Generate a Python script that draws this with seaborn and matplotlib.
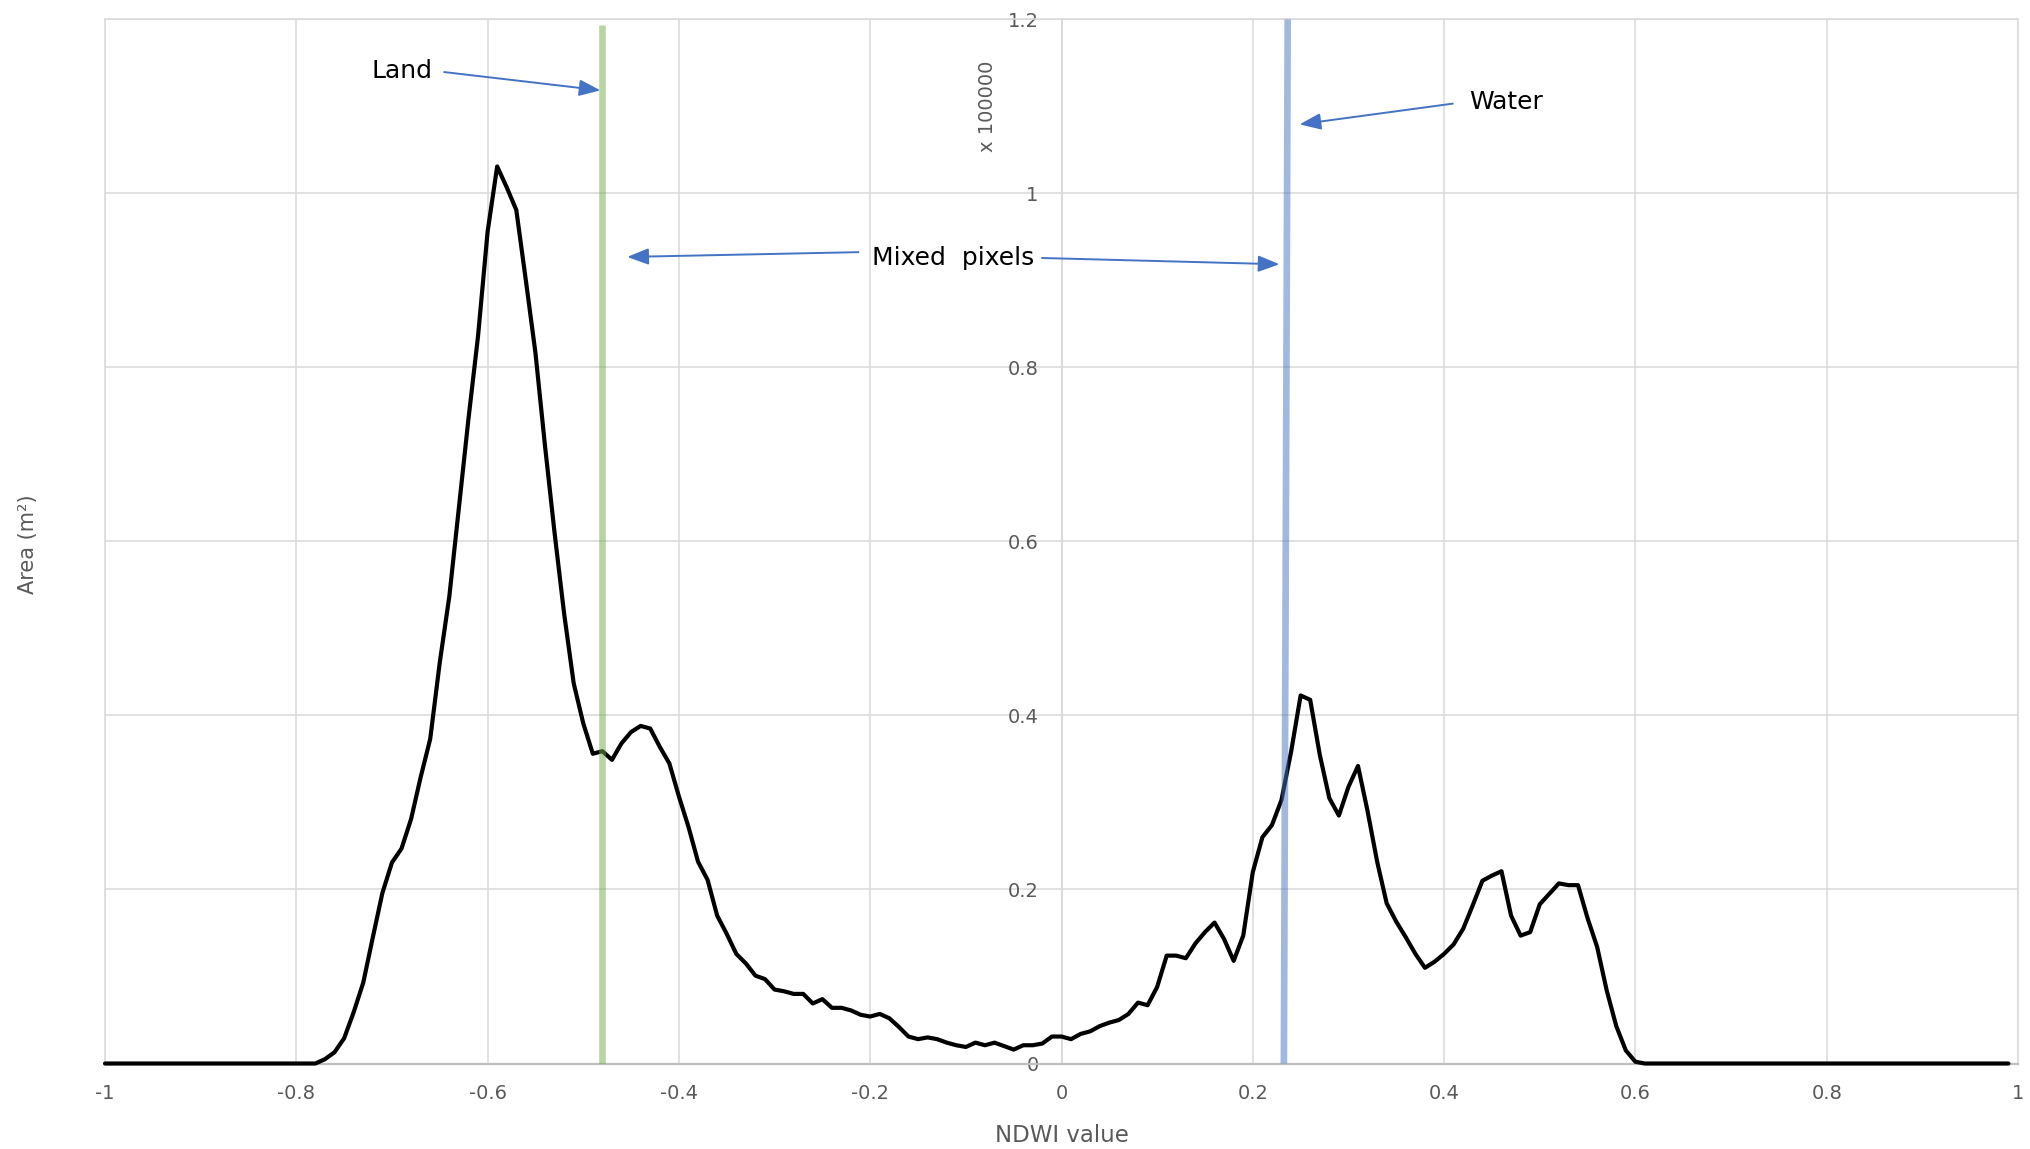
import numpy as np
import pandas as pd
import matplotlib
matplotlib.use("Agg")
import matplotlib.pyplot as plt
import seaborn as sns

# NDWI histogram bins (bin step 0.01) and area per bin, in units of 100000 m²
ndwi = np.round(np.arange(-100, 100) / 100, 2)
area = [
    # -1.00 .. -0.78
    0, 0, 0, 0, 0, 0, 0, 0, 0, 0, 0, 0, 0, 0, 0, 0, 0, 0, 0, 0, 0, 0, 0,
    # -0.77 .. -0.59
    0.005, 0.013, 0.029, 0.059, 0.093, 0.145, 0.196, 0.231, 0.247, 0.281,
    0.329, 0.373, 0.461, 0.537, 0.639, 0.741, 0.836, 0.956, 1.031,
    # -0.58 .. -0.39
    1.007, 0.981, 0.900, 0.817, 0.710, 0.610, 0.517, 0.437, 0.391, 0.356,
    0.359, 0.349, 0.368, 0.381, 0.388, 0.385, 0.364, 0.345, 0.307, 0.272,
    # -0.38 .. -0.19
    0.232, 0.211, 0.170, 0.149, 0.126, 0.115, 0.101, 0.097, 0.085, 0.083,
    0.080, 0.080, 0.069, 0.074, 0.064, 0.064, 0.061, 0.056, 0.054, 0.057,
    # -0.18 .. 0.01
    0.052, 0.042, 0.031, 0.028, 0.030, 0.028, 0.024, 0.021, 0.019, 0.024,
    0.021, 0.024, 0.020, 0.016, 0.021, 0.021, 0.023, 0.031, 0.031, 0.028,
    # 0.02 .. 0.21
    0.034, 0.037, 0.043, 0.047, 0.050, 0.057, 0.070, 0.067, 0.088, 0.124,
    0.124, 0.121, 0.138, 0.151, 0.162, 0.143, 0.118, 0.147, 0.220, 0.260,
    # 0.22 .. 0.41
    0.274, 0.303, 0.358, 0.423, 0.418, 0.355, 0.305, 0.285, 0.318, 0.342,
    0.290, 0.232, 0.184, 0.163, 0.145, 0.126, 0.110, 0.117, 0.126, 0.137,
    # 0.42 .. 0.60
    0.155, 0.182, 0.210, 0.216, 0.221, 0.170, 0.147, 0.151, 0.183, 0.195,
    0.207, 0.205, 0.205, 0.167, 0.134, 0.084, 0.043, 0.015, 0.002,
    # 0.61 .. 0.99
    0, 0, 0, 0, 0, 0, 0, 0, 0, 0, 0, 0, 0, 0, 0, 0, 0, 0, 0, 0,
    0, 0, 0, 0, 0, 0, 0, 0, 0, 0, 0, 0, 0, 0, 0, 0, 0, 0, 0,
]

x_ticks = [-1, -0.8, -0.6, -0.4, -0.2, 0, 0.2, 0.4, 0.6, 0.8, 1]
x_tick_labels = ["-1", "-0.8", "-0.6", "-0.4", "-0.2", "0", "0.2", "0.4", "0.6", "0.8", "1"]
y_ticks = [0, 0.2, 0.4, 0.6, 0.8, 1.0, 1.2]
y_tick_labels = ["0", "0.2", "0.4", "0.6", "0.8", "1", "1.2"]

# threshold lines (NDWI at bottom / top, area at bottom / top)
land_x = [-0.48, -0.48]
land_y = [0, 1.194]
water_x = [0.2325, 0.2365]
water_y = [0, 1.2]

GRID = "#d9d9d9"
TEXT_GREY = "#595959"
ARROW = "#4472C4"

sns.set_theme(style="white")
plt.rcParams["font.family"] = ["DejaVu Sans"]

fig = plt.figure(figsize=(20.31, 11.49), dpi=100)
ax = fig.add_axes([0.0517, 0.0744, 0.9419, 0.9087])

df = pd.DataFrame({"ndwi": ndwi, "area": area})
sns.lineplot(data=df, x="ndwi", y="area", color="black", lw=3.0, ax=ax,
             zorder=3, clip_on=False)

ax.plot(land_x, land_y, color="#70AD47", alpha=0.5, lw=4.8, zorder=4,
        solid_capstyle="butt")
ax.plot(water_x, water_y, color="#4472C4", alpha=0.5, lw=4.8, zorder=4,
        solid_capstyle="butt")

ax.set_xlim(-1, 1)
ax.set_ylim(0, 1.2)
ax.set_xticks(x_ticks)
ax.set_xticklabels(x_tick_labels)
ax.set_yticks(y_ticks)
ax.set_yticklabels(y_tick_labels)

ax.grid(True, color=GRID, lw=1.1)
ax.set_axisbelow(True)
for side in ["top", "right"]:
    ax.spines[side].set_color(GRID)
    ax.spines[side].set_linewidth(1.1)
ax.spines["left"].set_position(("data", 0))
ax.spines["left"].set_color(GRID)
ax.spines["left"].set_linewidth(1.1)
ax.spines["bottom"].set_color("#bfbfbf")
ax.spines["bottom"].set_linewidth(1.6)
ax.axvline(-1, color=GRID, lw=1.1, clip_on=False, zorder=0.5)

ax.tick_params(axis="y", length=0, pad=16.5, labelsize=14, labelcolor=TEXT_GREY)
ax.tick_params(axis="x", length=0, pad=15, labelsize=14, labelcolor=TEXT_GREY)

ax.set_xlabel("NDWI value", fontsize=16.5, color=TEXT_GREY, va="center")
ax.xaxis.set_label_coords(0.5, -0.0690)
ax.set_ylabel("Area (m²)", fontsize=15, color=TEXT_GREY, va="center")
ax.yaxis.set_label_coords(-0.0403, 0.4976)

ax.text(-0.0772, 1.100, "x 100000", rotation=90, ha="center", va="center",
        fontsize=14, color=TEXT_GREY)

# annotations
arrow_kw = dict(arrowstyle="-|>,head_length=1.3,head_width=0.5",
                mutation_scale=10, color=ARROW, lw=1.4, shrinkA=0, shrinkB=0)

ax.text(-0.689, 1.141, "Land", fontsize=18, ha="center", va="center", color="black")
ax.annotate("", xy=(-0.482, 1.1185), xytext=(-0.6454, 1.1395), arrowprops=arrow_kw)

ax.text(0.4645, 1.105, "Water", fontsize=18, ha="center", va="center", color="black")
ax.annotate("", xy=(0.2489, 1.0794), xytext=(0.409, 1.1032), arrowprops=arrow_kw)

ax.text(-0.1138, 0.926, "Mixed  pixels", fontsize=18, ha="center", va="center", color="black")
ax.annotate("", xy=(-0.454, 0.927), xytext=(-0.2124, 0.9325), arrowprops=arrow_kw)
ax.annotate("", xy=(0.2279, 0.9186), xytext=(-0.0204, 0.9258), arrowprops=arrow_kw)

fig.savefig("out.png", dpi=100)
